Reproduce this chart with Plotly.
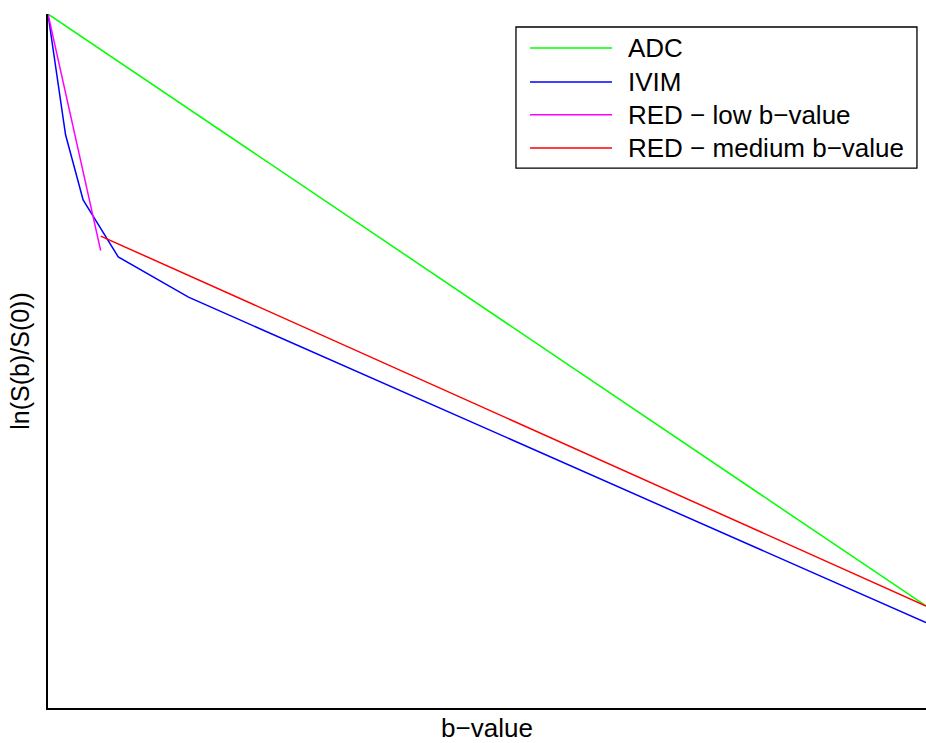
import plotly.graph_objects as go

# Data (b-values and ln(S(b)/S(0)); axes have no tick labels)
b_adc = [0, 1000]
lnS_adc = [0.0, -0.853]

b_ivim = [0, 20, 40, 80, 160, 1000]
lnS_ivim = [0.0, -0.174, -0.268, -0.350, -0.408, -0.877]

b_red_low = [0, 60]
lnS_red_low = [0.0, -0.341]

b_red_med = [60, 1000]
lnS_red_med = [-0.320, -0.853]

series_names = ["ADC", "IVIM", "RED \u2212 low b\u2212value", "RED \u2212 medium b\u2212value"]
series_colors = ["#00ff00", "#0000ff", "#ff00ff", "#ff0000"]

FONT = "Liberation Sans, Arial, Helvetica, sans-serif"

fig = go.Figure()
xs = [b_adc, b_ivim, b_red_low, b_red_med]
ys = [lnS_adc, lnS_ivim, lnS_red_low, lnS_red_med]
for x, y, name, col in zip(xs, ys, series_names, series_colors):
    fig.add_trace(go.Scatter(x=x, y=y, mode="lines", name=name,
                             line=dict(color=col, width=1.5), showlegend=False))

# Manual legend (MATLAB-style box)
shapes = [dict(type="rect", xref="paper", yref="paper", x0=0.533, x1=0.9897,
               y0=0.778, y1=0.9813, line=dict(color="black", width=1.3),
               fillcolor="white", layer="above")]
annotations = []
row_y = [0.951, 0.902, 0.855, 0.807]
for name, col, yy in zip(series_names, series_colors, row_y):
    shapes.append(dict(type="line", xref="paper", yref="paper", x0=0.549, x1=0.6424,
                       y0=yy, y1=yy, line=dict(color=col, width=1.5), layer="above"))
    annotations.append(dict(xref="paper", yref="paper", x=0.6606, y=yy, text=name,
                            showarrow=False, xanchor="left", yanchor="middle",
                            xshift=-2,
                            font=dict(family=FONT, size=26, color="black")))

fig.update_layout(
    width=926, height=743,
    margin=dict(l=48, r=0, t=14, b=35),
    paper_bgcolor="white", plot_bgcolor="white",
    showlegend=False,
    shapes=shapes, annotations=annotations,
    font=dict(family=FONT, size=25, color="black"),
)
fig.update_xaxes(range=[0, 1000], showgrid=False, zeroline=False, showticklabels=False,
                 ticks="", showline=True, linecolor="black", linewidth=1.5, mirror=False,
                 automargin=False,
                 title=dict(text="b\u2212value", standoff=13, font=dict(size=26)))
fig.update_yaxes(range=[-1, 0], showgrid=False, zeroline=False, showticklabels=False,
                 ticks="", showline=True, linecolor="black", linewidth=1.5, mirror=False,
                 automargin=False,
                 title=dict(text="ln(S(b)/S(0))", standoff=10, font=dict(size=25)))

fig.write_html("out.html")
